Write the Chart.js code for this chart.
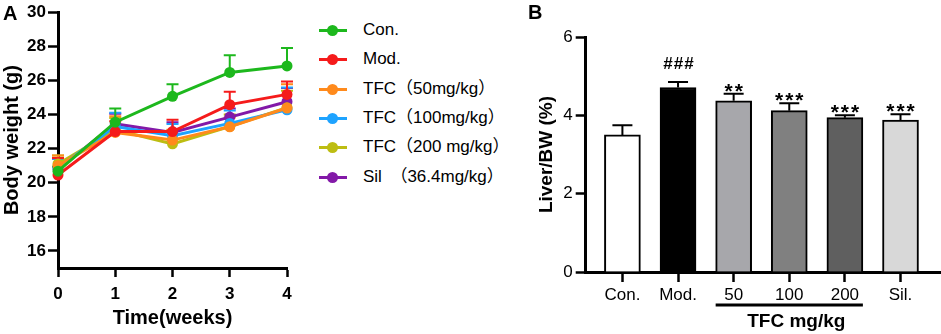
<!DOCTYPE html>
<html>
<head>
<meta charset="utf-8">
<script src="https://cdn.jsdelivr.net/npm/chart.js@4.4.1/dist/chart.umd.min.js"></script>
<style>
html, body { margin: 0; padding: 0; background: #fff; }
body { width: 941px; height: 334px; position: relative; overflow: hidden; font-family: Arial, "Liberation Sans", "Noto Sans CJK SC", sans-serif; }
#wrapA { position: absolute; left: 0; top: 0; width: 300px; height: 334px; }
#wrapB { position: absolute; left: 500px; top: 0; width: 441px; height: 334px; }
.tag { position: absolute; font-weight: bold; font-size: 20px; line-height: 20px; z-index: 2; }
#legend { position: absolute; left: 319px; top: 0; width: 180px; height: 200px; }
.row { position: absolute; left: 0; height: 20px; white-space: nowrap; font-size: 17px; line-height: 20px; }
.row .ln { position: absolute; left: 0; top: 9px; width: 28px; height: 3px; }
.row .dot { position: absolute; left: 8px; top: 5px; width: 11px; height: 11px; border-radius: 50%; }
.row .txt { position: absolute; left: 44px; top: 0; }
</style>
</head>
<body>
<div id="wrapA"><canvas id="chartA" width="300" height="334"></canvas></div>
<div id="legend"></div>
<div id="wrapB"><canvas id="chartB" width="441" height="334"></canvas></div>
<div class="tag" style="left:3px;top:3px;">A</div>
<div class="tag" style="left:528px;top:2px;">B</div>

<script>
// Painel A - peso corporal
const weeks = ['0', '1', '2', '3', '4'];
const groupNames = ['Con.', 'Mod.', 'TFC（50mg/kg）', 'TFC（100mg/kg）', 'TFC（200 mg/kg）', 'Sil　（36.4mg/kg）'];
const groupColors = ['#1db81d', '#f51b1b', '#ff8a1c', '#1ea3ff', '#bdbd12', '#8319a8'];

const conMean = [20.68, 23.55, 25.07, 26.47, 26.85];
const modMean = [20.45, 23.0, 23.0, 24.58, 25.18];
const tfc50Mean = [21.0, 22.95, 22.5, 23.28, 24.38];
const tfc100Mean = [20.9, 23.3, 22.75, 23.48, 24.28];
const tfc200Mean = [21.1, 23.1, 22.28, 23.3, 24.4];
const silMean = [20.8, 23.45, 22.95, 23.85, 24.75];

const conSd = [0.25, 0.8, 0.7, 1.0, 1.05];
const modSd = [1.0, 0.6, 0.7, 0.75, 0.75];
const tfc50Sd = [0.6, 0.95, 0.6, 0.55, 1.4];
const tfc100Sd = [0.5, 0.8, 0.7, 0.75, 1.3];
const tfc200Sd = [0.5, 0.7, 0.8, 0.7, 1.0];
const silSd = [0.6, 0.6, 0.6, 0.5, 0.8];

const weightTicks = [16, 18, 20, 22, 24, 26, 28, 30];

// Painel B - fígado / peso corporal
const liverLabels = ['Con.', 'Mod.', '50', '100', '200', 'Sil.'];
const liverMean = [3.5, 4.71, 4.37, 4.12, 3.94, 3.88];
const liverSd = [0.25, 0.14, 0.18, 0.19, 0.06, 0.15];
const liverColors = ['#ffffff', '#000000', '#a7a7ab', '#808080', '#5f5f5f', '#d8d8d8'];
const liverMarks = ['', '###', '**', '***', '***', '***'];
const liverTicks = [0, 2, 4, 6];

const fonte = 'Arial, "Liberation Sans", sans-serif';

// legenda
const legend = document.getElementById('legend');
groupNames.forEach((nome, i) => {
    const row = document.createElement('div');
    row.className = 'row';
    row.style.top = (20 + i * 29.3) + 'px';
    row.innerHTML = `<div class="ln" style="background:${groupColors[i]}"></div>
        <div class="dot" style="background:${groupColors[i]}"></div>
        <div class="txt">${nome}</div>`;
    legend.appendChild(row);
});

const meansA = [conMean, modMean, tfc50Mean, tfc100Mean, tfc200Mean, silMean];
const sdsA = [conSd, modSd, tfc50Sd, tfc100Sd, tfc200Sd, silSd];

const errorBarsA = {
    id: 'errorBarsA',
    beforeDatasetsDraw(chart) {
        const ctx = chart.ctx;
        const xs = chart.scales.x, ys = chart.scales.y;
        for (let d = chart.data.datasets.length - 1; d >= 0; d--) {
            const ds = chart.data.datasets[d];
            ctx.save();
            ctx.strokeStyle = ds.borderColor;
            ctx.lineWidth = 2;
            ds.data.forEach((v, i) => {
                const px = xs.getPixelForValue(i);
                const py = ys.getPixelForValue(v);
                const top = ys.getPixelForValue(v + ds.sd[i]);
                ctx.beginPath();
                ctx.moveTo(px, py);
                ctx.lineTo(px, top);
                ctx.moveTo(px - 6, top);
                ctx.lineTo(px + 6, top);
                ctx.stroke();
            });
            ctx.restore();
        }
    }
};

new Chart(document.getElementById('chartA'), {
    type: 'line',
    data: {
        labels: weeks,
        datasets: meansA.map((m, i) => ({
            label: groupNames[i],
            data: m,
            sd: sdsA[i],
            borderColor: groupColors[i],
            backgroundColor: groupColors[i],
            borderWidth: 3,
            pointRadius: 5.5,
            pointBorderWidth: 0,
            clip: false
        }))
    },
    options: {
        responsive: false,
        animation: false,
        devicePixelRatio: 1,
        layout: { padding: { left: 0, top: 9, right: 13, bottom: 0 } },
        plugins: { legend: { display: false }, tooltip: { enabled: false } },
        scales: {
            x: {
                type: 'category',
                offset: false,
                afterFit(scale) { scale.height = 66; },
                border: { display: true, color: '#000', width: 3 },
                grid: { drawOnChartArea: false, drawTicks: true, tickLength: 9, tickWidth: 2.5, tickColor: '#000' },
                ticks: { color: '#000', padding: 7, font: { family: fonte, size: 17, weight: 'bold' } },
                title: { display: true, text: 'Time(weeks)', color: '#000', padding: { top: 0, bottom: 4 }, font: { family: fonte, size: 20, weight: 'bold' } }
            },
            y: {
                min: 15,
                max: 30,
                afterBuildTicks(scale) { scale.ticks = weightTicks.map(v => ({ value: v })); },
                afterFit(scale) { scale.width = 58; },
                border: { display: true, color: '#000', width: 3 },
                grid: { drawOnChartArea: false, drawTicks: true, tickLength: 10, tickWidth: 2.5, tickColor: '#000' },
                ticks: { color: '#000', padding: 2, font: { family: fonte, size: 17, weight: 'bold' } },
                title: { display: true, text: 'Body weight (g)', color: '#000', padding: { top: 0, bottom: 0 }, font: { family: fonte, size: 20, weight: 'bold' } }
            }
        }
    },
    plugins: [errorBarsA]
});

const extrasB = {
    id: 'extrasB',
    afterDatasetsDraw(chart) {
        const ctx = chart.ctx;
        const xs = chart.scales.x, ys = chart.scales.y;
        ctx.save();
        ctx.strokeStyle = '#000';
        ctx.fillStyle = '#000';
        ctx.lineWidth = 2;
        liverMean.forEach((v, i) => {
            const px = xs.getPixelForValue(i);
            const py = ys.getPixelForValue(v);
            const top = ys.getPixelForValue(v + liverSd[i]);
            ctx.beginPath();
            ctx.moveTo(px, py);
            ctx.lineTo(px, top);
            ctx.moveTo(px - 10, top);
            ctx.lineTo(px + 10, top);
            ctx.stroke();
            const marca = liverMarks[i];
            if (marca) {
                ctx.textAlign = 'center';
                ctx.textBaseline = 'alphabetic';
                if (marca[0] === '#') {
                    ctx.font = 'bold 17px ' + fonte;
                    ctx.letterSpacing = '1px';
                    ctx.fillText(marca, px + 1, top - 13);
                } else {
                    ctx.font = 'bold 21px ' + fonte;
                    ctx.letterSpacing = '2px';
                    ctx.fillText(marca, px + 1, top + 4);
                }
            }
        });
        // barra sob as doses de TFC
        const x1 = xs.getPixelForValue(2) - 18;
        const x2 = xs.getPixelForValue(4) + 18;
        ctx.lineWidth = 3;
        ctx.beginPath();
        ctx.moveTo(x1, 305);
        ctx.lineTo(x2, 305);
        ctx.stroke();
        ctx.letterSpacing = '0px';
        ctx.font = 'bold 19px ' + fonte;
        ctx.textAlign = 'center';
        ctx.textBaseline = 'middle';
        ctx.fillText('TFC mg/kg', (x1 + x2) / 2 + 7, 322);
        ctx.restore();
    }
};

new Chart(document.getElementById('chartB'), {
    type: 'bar',
    data: {
        datasets: [{
            label: 'Liver/BW',
            data: liverMean.map((v, i) => ({ x: i, y: v })),
            backgroundColor: liverColors,
            borderColor: '#000',
            borderWidth: 2,
            barThickness: 36
        }]
    },
    options: {
        responsive: false,
        animation: false,
        devicePixelRatio: 1,
        layout: { padding: { left: 35, top: 37, right: 1, bottom: 0 } },
        plugins: { legend: { display: false }, tooltip: { enabled: false } },
        scales: {
            x: {
                type: 'linear',
                offset: false,
                min: -0.66,
                max: 5.71,
                afterBuildTicks(scale) { scale.ticks = liverLabels.map((l, i) => ({ value: i })); },
                afterFit(scale) { scale.height = 62; },
                border: { display: true, color: '#000', width: 3 },
                grid: { offset: false, drawOnChartArea: false, drawTicks: true, tickLength: 10, tickWidth: 2.5, tickColor: '#000' },
                ticks: { color: '#000', padding: 3, autoSkip: false, maxRotation: 0, callback: v => liverLabels[v], font: { family: fonte, size: 17 } }
            },
            y: {
                min: 0,
                max: 6,
                afterBuildTicks(scale) { scale.ticks = liverTicks.map(v => ({ value: v })); },
                afterFit(scale) { scale.width = 50.7; },
                border: { display: true, color: '#000', width: 3 },
                grid: { drawOnChartArea: false, drawTicks: true, tickLength: 10, tickWidth: 2.5, tickColor: '#000' },
                ticks: { color: '#000', padding: 3, font: { family: fonte, size: 17 } },
                title: { display: true, text: 'Liver/BW (%)', color: '#000', padding: { top: 0, bottom: 0 }, font: { family: fonte, size: 19, weight: 'bold' } }
            }
        }
    },
    plugins: [extrasB]
});
</script>
</body>
</html>
